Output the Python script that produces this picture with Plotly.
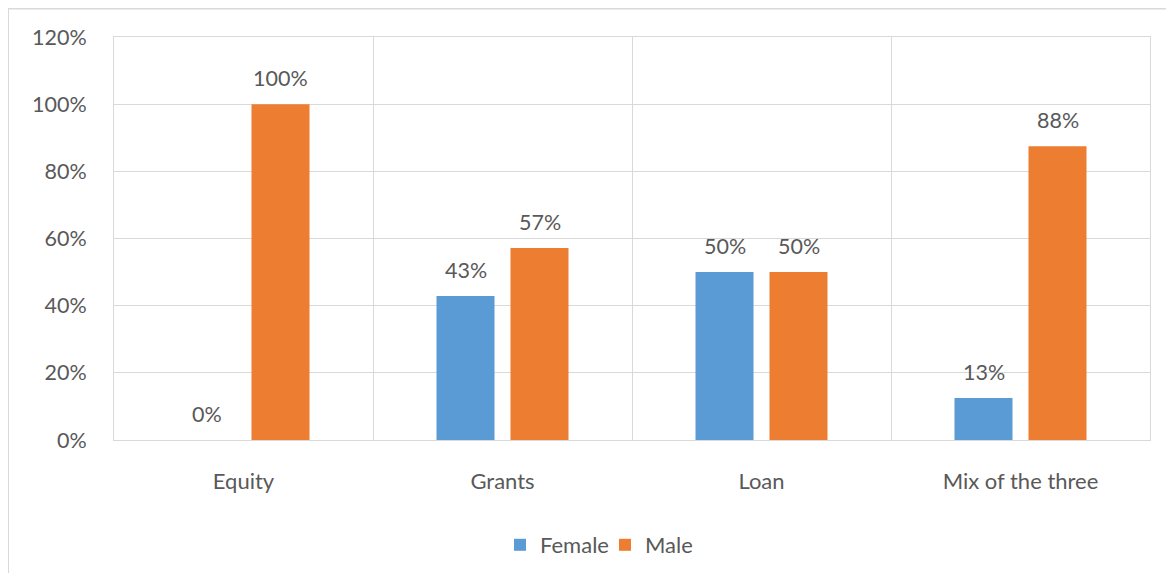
import plotly.graph_objects as go

categories = ["Equity", "Grants", "Loan", "Mix of the three"]
female = [0.0, 0.4286, 0.50, 0.125]
male = [1.00, 0.5714, 0.50, 0.875]
female_labels = ["0%", "43%", "50%", "13%"]
male_labels = ["100%", "57%", "50%", "88%"]
y_ticks = [0, 0.2, 0.4, 0.6, 0.8, 1.0, 1.2]
y_tick_text = ["0%", "20%", "40%", "60%", "80%", "100%", "120%"]

FONT = "Lato, Calibri, Carlito, sans-serif"
TXT = "#595959"
GRID = "#d9d9d9"

fig = go.Figure()
fig.add_trace(go.Bar(name="Female", x=categories, y=female, marker_color="#5B9BD5",
                     marker_line_width=0))
fig.add_trace(go.Bar(name="Male", x=categories, y=male, marker_color="#ED7D31",
                     marker_line_width=0))

annotations = []
for c, v, t in zip(categories, female, female_labels):
    annotations.append(dict(x=c, y=v, text=t, xshift=-37, yshift=26, showarrow=False,
                            xref="x", yref="y", yanchor="middle",
                            font=dict(family=FONT, size=21.5, color=TXT)))
for c, v, t in zip(categories, male, male_labels):
    annotations.append(dict(x=c, y=v, text=t, xshift=37, yshift=26, showarrow=False,
                            xref="x", yref="y", yanchor="middle",
                            font=dict(family=FONT, size=21.5, color=TXT)))

# page has 8px body margin; figure coordinates = page - 8
OFF = 8
W, H = 1158, 565
pw, ph = 1036, 403
L, T = 114 - OFF, 37 - OFF
R = W - L - pw
B = H - T - ph
def px_x(p):
    return (p - OFF - L) / pw
def px_y(p):
    return (H - B - (p - OFF)) / ph

fig.update_layout(
    width=W, height=H,
    margin=dict(l=L, r=R, t=T, b=B, pad=0, autoexpand=False),
    paper_bgcolor="white", plot_bgcolor="white",
    barmode="group", bargap=0.4286, bargroupgap=0.216,
    font=dict(family=FONT, size=22, color=TXT),
    annotations=annotations,
    showlegend=True,
    legend=dict(orientation="h", x=px_x(605), xanchor="center", y=px_y(545), yanchor="middle",
                font=dict(family=FONT, size=22, color=TXT), itemwidth=30,
                entrywidth=60, traceorder="normal"),
    shapes=[dict(type="rect", xref="paper", yref="paper",
                 x0=px_x(OFF), x1=px_x(1200), y0=px_y(640), y1=px_y(OFF + 0.5),
                 line=dict(color="#d9d9d9", width=2), fillcolor="rgba(0,0,0,0)", layer="below")],
)
fig.update_xaxes(tickson="boundaries", showgrid=True, gridcolor=GRID, gridwidth=1,
                 showline=True, linecolor=GRID, linewidth=1, mirror=True,
                 ticks="", ticklabelstandoff=22,
                 tickfont=dict(family=FONT, size=22, color=TXT))
fig.update_yaxes(range=[0, 1.2], tickvals=y_ticks, ticktext=y_tick_text,
                 showgrid=True, gridcolor=GRID, gridwidth=1, zeroline=False,
                 showline=True, linecolor=GRID, linewidth=1, mirror=True,
                 ticks="", ticklabelstandoff=22,
                 tickfont=dict(family=FONT, size=21.5, color=TXT))

fig.write_html("out.html")
